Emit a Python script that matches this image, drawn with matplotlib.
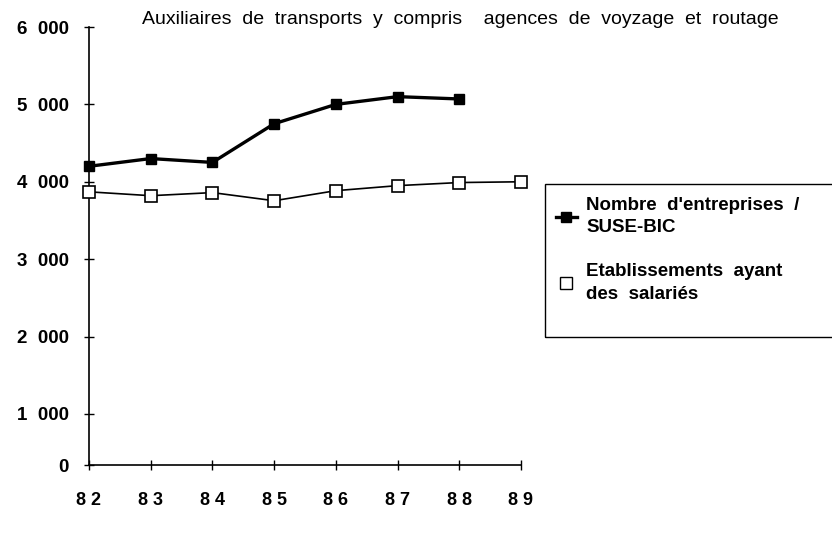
import matplotlib
matplotlib.use("Agg")
import matplotlib.pyplot as plt
from matplotlib.lines import Line2D
from matplotlib.patches import Rectangle

years = [82, 83, 84, 85, 86, 87, 88, 89]
year_labels = ["8 2", "8 3", "8 4", "8 5", "8 6", "8 7", "8 8", "8 9"]
entreprises = [4200, 4300, 4250, 4750, 5000, 5100, 5070]
etablissements = [3870, 3820, 3860, 3755, 3885, 3950, 3990, 4000]
y_ticks = [340, 1000, 2000, 3000, 4000, 5000, 6000]  # original scan labels its axis bottom "0"
y_labels = ["0", "1  000", "2  000", "3  000", "4  000", "5  000", "6  000"]
title = "Auxiliaires  de  transports  y  compris    agences  de  voyzage  et  routage"
legend_labels = ["Nombre  d'entreprises  /\nSUSE-BIC", "Etablissements  ayant\ndes  salariés"]

plt.rcParams["font.family"] = ["Liberation Sans", "DejaVu Sans"]

fig = plt.figure(figsize=(8.32, 5.4), dpi=100)
ax = fig.add_axes([89 / 832, 1 - 465 / 540, 432 / 832, 438 / 540])

ax.plot(years[:len(entreprises)], entreprises, color="black", lw=2.4,
        marker="s", ms=7, mfc="black", mec="black", zorder=3, clip_on=False)
ax.plot(years, etablissements, color="black", lw=1.2,
        marker="s", ms=9, mfc="white", mec="black", mew=1.2, zorder=3, clip_on=False)

ax.set_xlim(years[0], years[-1])
ax.set_ylim(y_ticks[0], y_ticks[-1])
ax.set_xticks(years)
ax.set_xticklabels(year_labels, fontsize=13, fontweight="bold")
ax.set_yticks(y_ticks)
ax.set_yticklabels(y_labels, fontsize=13.5, fontweight="bold")
ax.tick_params(direction="inout", length=7, width=1, pad=11)
ax.tick_params(axis="x", pad=16)
for side in ["top", "right"]:
    ax.spines[side].set_visible(False)
for side in ["left", "bottom"]:
    ax.spines[side].set_linewidth(1.2)
ax.patch.set_visible(False)

fig.text(460 / 832, 1 - 19 / 540, title, ha="center", va="center", fontsize=14)

# legend box: open on the right, runs off the page as in the scan
fig.add_artist(Rectangle((545 / 832, 1 - 337 / 540), 0.4, 153 / 540,
                         transform=fig.transFigure, fill=False,
                         edgecolor="black", lw=1.0))
handles = [
    Line2D([], [], color="black", lw=2.4, marker="s", ms=7, mfc="black"),
    Line2D([], [], color="black", lw=0, marker="s", ms=8, mfc="white", mew=1.0),
]
leg = fig.legend(handles, legend_labels, loc="upper left",
                 bbox_to_anchor=(556 / 832, 1 - 197 / 540),
                 frameon=False, fontsize=13.5, handlelength=1.1, handletextpad=0.5,
                 labelspacing=1.45, borderpad=0.0, borderaxespad=0)
for t in leg.get_texts():
    t.set_fontweight("bold")
    t.set_linespacing(1.4)

fig.savefig("out.png", dpi=100)
